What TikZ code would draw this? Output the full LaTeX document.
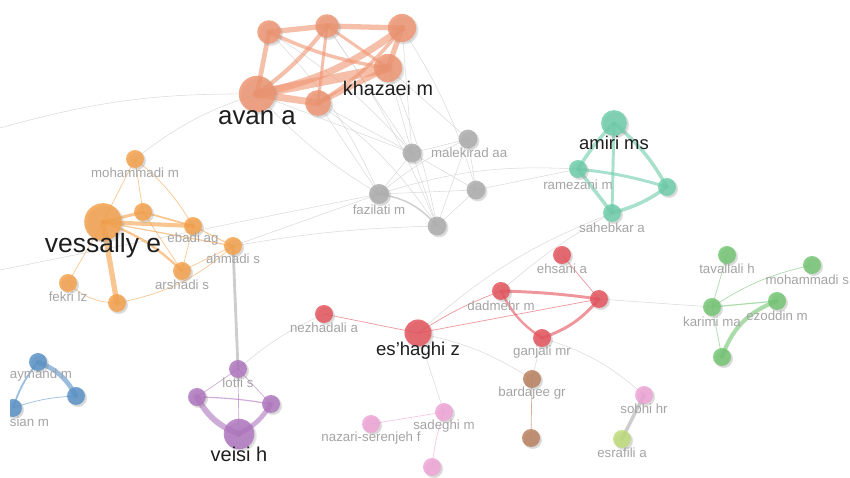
\documentclass[tikz,border=0pt]{standalone}
\usepackage{fontspec}
\setmainfont{Liberation Sans}
\usetikzlibrary{positioning,shadows,backgrounds}
\definecolor{sal}{HTML}{EF9470}
\definecolor{ora}{HTML}{F5A048}
\definecolor{tea}{HTML}{6CCDAA}
\definecolor{gry}{HTML}{ABABAB}
\definecolor{rdd}{HTML}{E5505A}
\definecolor{gre}{HTML}{70C470}
\definecolor{blu}{HTML}{5690C6}
\definecolor{pur}{HTML}{AE74BE}
\definecolor{pin}{HTML}{EFA3D6}
\definecolor{bro}{HTML}{B97E5C}
\definecolor{lim}{HTML}{BDDC78}
\definecolor{edgegray}{HTML}{DADADA}
\definecolor{labgray}{HTML}{A4A4A4}
\definecolor{bigtext}{HTML}{1E1E1E}
\tikzset{%
	au/.style  = {circle, inner sep=0pt, minimum size=#1, fill opacity=0.82, circular drop shadow={shadow xshift=1.2pt, shadow yshift=-1.2pt, shadow scale=1.08, opacity=0.3}},
	au/.default = 15.3pt,
	lk/.style  = {line width=#1, line cap=round, draw opacity=0.6},
	gl/.style  = {draw=edgegray, line width=0.45pt},
	lab/.style = {font=\fontsize{11.3}{12}\selectfont, text=labgray, inner sep=0pt, anchor=center},
	big/.style = {font=\fontsize{#1}{#1}\selectfont, text=bigtext, inner sep=0pt, anchor=center},
}
\begin{document}
\begin{tikzpicture}[x=0.85pt, y=-0.85pt]
\useasboundingbox (0,0) rectangle (850,478);
\clip (10,0) rectangle (850,478);
% cluster: avan / khazaei
\node[au=31pt, fill=sal] (av) at (257,94) {};
\node[au=20pt, fill=sal] (k1) at (269,32) {};
\node[au=20pt, fill=sal] (k2) at (327,26) {};
\node[au=24pt, fill=sal] (k3) at (402,28) {};
\node[au=24pt, fill=sal] (kh) at (388,68) {};
\node[au=22pt, fill=sal] (k5) at (318,103) {};
% cluster: malekirad / fazilati
\node[au=16pt, fill=gry] (g1) at (412,153) {};
\node[au=16pt, fill=gry] (g2) at (468,139) {};
\node[au=17pt, fill=gry] (fa) at (379,194) {};
\node[au=16pt, fill=gry] (g4) at (476,190) {};
\node[au=16pt, fill=gry] (g5) at (437,226) {};
% cluster: amiri
\node[au=22pt, fill=tea] (am) at (614,123) {};
\node[au, fill=tea] (ra) at (578,169) {};
\node[au, fill=tea] (tr) at (667,187) {};
\node[au, fill=tea] (sa) at (612,213) {};
% cluster: vessally
\node[au=32pt, fill=ora] (ve) at (103,222) {};
\node[au, fill=ora] (mo) at (135,159) {};
\node[au, fill=ora] (o2) at (143,212) {};
\node[au, fill=ora] (eb) at (193,226) {};
\node[au, fill=ora] (ah) at (233,246) {};
\node[au, fill=ora] (ar) at (182,271) {};
\node[au, fill=ora] (fe) at (68,283) {};
\node[au, fill=ora] (ob) at (117,303) {};
% cluster: es'haghi
\node[au, fill=rdd] (eh) at (562,255) {};
\node[au, fill=rdd] (da) at (501,291) {};
\node[au, fill=rdd] (rr) at (599,299) {};
\node[au, fill=rdd] (ga) at (542,338) {};
\node[au, fill=rdd] (ne) at (324,314) {};
\node[au=23pt, fill=rdd] (es) at (418,333) {};
% cluster: karimi
\node[au, fill=gre] (ta) at (727,255) {};
\node[au, fill=gre] (ms) at (812,265) {};
\node[au, fill=gre] (ka) at (712,307) {};
\node[au, fill=gre] (ez) at (777,301) {};
\node[au, fill=gre] (gb) at (722,357) {};
% cluster: left edge
\node[au, fill=blu] (ay) at (38,362) {};
\node[au, fill=blu] (br) at (76,396) {};
\node[au, fill=blu] (bl) at (13,408) {};
% cluster: veisi
\node[au, fill=pur] (lo) at (238,369) {};
\node[au, fill=pur] (pl) at (197,397) {};
\node[au, fill=pur] (pr) at (271,404) {};
\node[au=26pt, fill=pur] (vh) at (239,434) {};
% small groups
\node[au, fill=pin] (so) at (644,395) {};
\node[au, fill=pin] (sd) at (444,412) {};
\node[au, fill=pin] (nz) at (371,424) {};
\node[au, fill=pin] (pb) at (432,467) {};
\node[au, fill=bro] (bg) at (532,379) {};
\node[au, fill=bro] (bb) at (531,438) {};
\node[au, fill=lim] (ea) at (622,439) {};
\coordinate (w1) at (0,128);
\coordinate (w2) at (0,270);

% labels
\node[below=20pt of av.center, big=22] (avl) {avan a};
\node[below=17pt of kh.center, big=16.8] (khl) {khazaei m};
\node[right=16pt of g1.center, lab, anchor=west] (g1l) {malekirad aa};
\node[below=13pt of fa.center, lab] (fal) {fazilati m};
\node[below=17pt of am.center, big=15.7] (aml) {amiri ms};
\node[below=13.5pt of ra.center, lab] (ral) {ramezani m};
\node[below=12.8pt of sa.center, lab] (sal) {sahebkar a};
\node[below=20.5pt of ve.center, big=22.5] (vel) {vessally e};
\node[below=12pt of mo.center, lab] (mol) {mohammadi m};
\node[below=11pt of eb.center, lab] (ebl) {ebadi ag};
\node[below=10.5pt of ah.center, lab] (ahl) {ahmadi s};
\node[below=12pt of ar.center, lab] (arl) {arshadi s};
\node[below=12pt of fe.center, lab] (fel) {fekri lz};
\node[below=12pt of eh.center, lab] (ehl) {ehsani a};
\node[below=12.8pt of da.center, lab] (dal) {dadmehr m};
\node[below=12pt of ga.center, lab] (gal) {ganjali mr};
\node[below=12pt of ne.center, lab] (nel) {nezhadali a};
\node[below=15.3pt of es.center, big=15.8] (esl) {es'haghi z};
\node[below=12pt of ta.center, lab] (tal) {tavallali h};
\node[below=12.8pt of ms.center, lab, xshift=-4pt] (msl) {mohammadi s};
\node[below=12.8pt of ka.center, lab] (kal) {karimi ma};
\node[below=12.8pt of ez.center, lab] (ezl) {ezoddin m};
\node[below=11pt of ay.center, lab, xshift=2.5pt] (ayl) {aymand m};
\node[below=12pt of bl.center, lab, xshift=14pt] (bll) {sian m};
\node[below=12pt of lo.center, lab] (lol) {lotfi s};
\node[below=17pt of vh.center, big=17] (vhl) {veisi h};
\node[below=11.5pt of so.center, lab] (sol) {sobhi hr};
\node[below=12pt of sd.center, lab] (sdl) {sadeghi m};
\node[below=12pt of nz.center, lab] (nzl) {nazari-serenjeh f};
\node[below=12pt of bg.center, lab] (bgl) {bardajee gr};
\node[below=12pt of ea.center, lab] (eal) {esrafili a};

\begin{scope}[on background layer]
% thin links between clusters
\draw[gl] (k1.center) to[bend left=10] (fa.center);
\draw[gl] (k1.center) to[bend left=8] (g1.center);
\draw[gl] (k2.center) -- (g1.center);
\draw[gl] (k2.center) to[bend left=6] (g5.center);
\draw[gl] (k3.center) -- (g1.center);
\draw[gl] (k3.center) to[bend left=8] (g4.center);
\draw[gl] (kh.center) -- (g1.center);
\draw[gl] (kh.center) -- (g2.center);
\draw[gl] (kh.center) to[bend left=6] (g5.center);
\draw[gl] (av.center) to[bend right=8] (fa.center);
\draw[gl] (av.center) -- (g1.center);
\draw[gl] (k5.center) -- (g1.center);
\draw[gl] (k5.center) -- (fa.center);
\draw[gl] (k5.center) to[bend left=10] (g5.center);
\draw[gl] (w1) to[bend left=8] (av.center);
\draw[gl] (mo.center) to[bend left=10] (av.center);
\draw[gl] (g1.center) -- (g2.center);
\draw[gl] (g1.center) -- (g4.center);
\draw[gl] (g1.center) -- (fa.center);
\draw[gl] (g1.center) -- (g5.center);
\draw[gl] (g2.center) to[bend right=8] (fa.center);
\draw[gl] (g2.center) -- (g4.center);
\draw[gl] (g2.center) -- (g5.center);
\draw[gl] (fa.center) -- (g4.center);
\draw[lk=1.2pt, draw=gry] (fa.center) to[bend left=20] (g5.center);
\draw[gl] (g4.center) -- (g5.center);
\draw[gl] (w2) -- (fa.center);
\draw[gl] (ah.center) to[bend left=4] (g5.center);
\draw[gl] (ah.center) -- (fa.center);
\draw[gl] (g4.center) -- (ra.center);
\draw[gl] (fa.center) to[bend left=10] (ra.center);
\draw[gl] (sa.center) to[bend right=6] (da.center);
\draw[gl] (sa.center) to[bend right=10] (es.center);
\draw[gl] (rr.center) -- (ka.center);
\draw[gl] (es.center) -- (sd.center);
\draw[gl] (es.center) to[bend left=10] (bg.center);
\draw[gl] (ga.center) -- (bg.center);
\draw[gl] (ga.center) to[bend left=12] (so.center);
\draw[gl] (lo.center) to[bend left=8] (ne.center);
\draw[lk=2.4pt, draw=gry] (ah.center) -- (lo.center);
\draw[lk=3pt, draw=gry] (so.center) -- (ea.center);
% avan / khazaei
\draw[lk=4.5pt, draw=sal] (k1.center) -- (k2.center);
\draw[lk=4.5pt, draw=sal] (k2.center) -- (k3.center);
\draw[lk=4pt, draw=sal] (k1.center) -- (av.center);
\draw[lk=3pt, draw=sal] (k1.center) to[bend right=8] (kh.center);
\draw[lk=3.5pt, draw=sal] (k2.center) to[bend left=8] (av.center);
\draw[lk=2.5pt, draw=sal] (k2.center) -- (k5.center);
\draw[lk=2.5pt, draw=sal] (k2.center) -- (kh.center);
\draw[lk=6pt, draw=sal] (k3.center) to[bend left=12] (av.center);
\draw[lk=4.5pt, draw=sal] (k3.center) -- (kh.center);
\draw[lk=3pt, draw=sal] (k3.center) to[bend left=10] (k5.center);
\draw[lk=8pt, draw=sal] (kh.center) -- (av.center);
\draw[lk=6pt, draw=sal] (av.center) -- (k5.center);
\draw[lk=4.5pt, draw=sal] (k5.center) -- (kh.center);
% amiri
\draw[lk=3pt, draw=tea] (am.center) to[bend right=6] (ra.center);
\draw[lk=3pt, draw=tea] (am.center) to[bend left=10] (tr.center);
\draw[lk=2.5pt, draw=tea] (am.center) -- (sa.center);
\draw[lk=2.5pt, draw=tea] (ra.center) to[bend left=5] (tr.center);
\draw[lk=3pt, draw=tea] (ra.center) -- (sa.center);
\draw[lk=3pt, draw=tea] (sa.center) to[bend right=10] (tr.center);
% vessally
\draw[lk=3.5pt, draw=ora] (ve.center) -- (eb.center);
\draw[lk=4.5pt, draw=ora] (ve.center) -- (ob.center);
\draw[lk=2.5pt, draw=ora] (ve.center) -- (o2.center);
\draw[lk=2pt, draw=ora] (ve.center) to[bend left=12] (ar.center);
\draw[lk=1pt, draw=ora] (ve.center) -- (ah.center);
\draw[lk=0.6pt, draw=ora] (mo.center) -- (ve.center);
\draw[lk=0.6pt, draw=ora] (mo.center) -- (o2.center);
\draw[lk=0.6pt, draw=ora] (mo.center) to[bend left=10] (eb.center);
\draw[lk=0.6pt, draw=ora] (fe.center) -- (ve.center);
\draw[lk=0.6pt, draw=ora] (fe.center) to[bend right=20] (ob.center);
\draw[lk=0.6pt, draw=ora] (ob.center) to[bend right=15] (ah.center);
\draw[lk=1.5pt, draw=ora] (o2.center) -- (eb.center);
\draw[lk=0.6pt, draw=ora] (o2.center) -- (ar.center);
\draw[lk=0.8pt, draw=ora] (eb.center) -- (ah.center);
\draw[lk=0.6pt, draw=ora] (ar.center) -- (ah.center);
\draw[lk=0.6pt, draw=ora] (eb.center) -- (ar.center);
% es'haghi
\draw[lk=2.5pt, draw=rdd] (da.center) to[bend left=3] (rr.center);
\draw[lk=2pt, draw=rdd] (da.center) to[bend right=15] (ga.center);
\draw[lk=2.5pt, draw=rdd] (ga.center) to[bend right=15] (rr.center);
\draw[lk=0.6pt, draw=rdd] (eh.center) -- (rr.center);
\draw[lk=0.6pt, draw=rdd] (es.center) -- (rr.center);
\draw[lk=0.6pt, draw=rdd] (es.center) to[bend left=6] (da.center);
\draw[lk=0.6pt, draw=rdd] (ne.center) -- (es.center);
% karimi
\draw[lk=0.6pt, draw=gre] (ta.center) -- (ka.center);
\draw[lk=0.6pt, draw=gre] (ka.center) to[bend left=10] (ms.center);
\draw[lk=1pt, draw=gre] (ka.center) -- (ez.center);
\draw[lk=0.6pt, draw=gre] (ka.center) -- (gb.center);
\draw[lk=3.5pt, draw=gre] (ez.center) to[bend right=25] (gb.center);
% left edge
\draw[lk=4pt, draw=blu] (ay.center) to[bend left=20] (br.center);
\draw[lk=1.5pt, draw=blu] (ay.center) to[bend right=10] (bl.center);
\draw[lk=0.6pt, draw=blu] (bl.center) to[bend left=8] (br.center);
% veisi
\draw[lk=5pt, draw=pur] (pl.center) to[bend right=20] (vh.center);
\draw[lk=4pt, draw=pur] (pr.center) to[bend left=15] (vh.center);
\draw[lk=1pt, draw=pur] (pl.center) to[bend left=4] (pr.center);
\draw[lk=0.6pt, draw=pur] (lo.center) -- (pl.center);
\draw[lk=0.6pt, draw=pur] (lo.center) -- (pr.center);
\draw[lk=0.6pt, draw=pur] (lo.center) -- (vh.center);
% small groups
\draw[lk=0.6pt, draw=pin] (sd.center) -- (nz.center);
\draw[lk=0.6pt, draw=pin] (sd.center) to[bend right=6] (pb.center);
\draw[lk=0.6pt, draw=bro] (bg.center) -- (bb.center);
\end{scope}
\end{tikzpicture}
\end{document}
